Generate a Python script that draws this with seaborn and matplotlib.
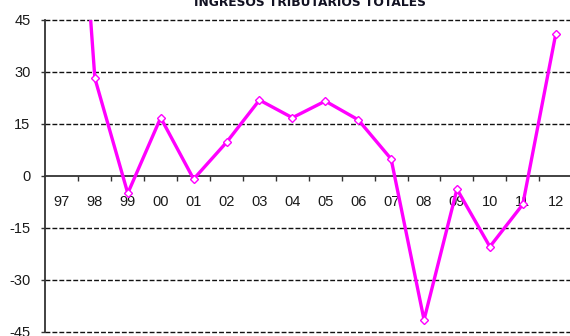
import matplotlib
matplotlib.use("Agg")
import matplotlib.pyplot as plt
from matplotlib.ticker import FixedLocator, NullFormatter
import seaborn as sns
import pandas as pd

# Annual growth of total tax revenue (%)
years = ["97", "98", "99", "00", "01", "02", "03", "04",
         "05", "06", "07", "08", "09", "10", "11", "12"]
growth = [160.0, 28.2, -5.0, 16.8, -0.9, 9.7, 21.9, 16.8,
          21.6, 16.2, 4.9, -41.5, -3.8, -20.4, -8.2, 40.9]
y_ticks = [45, 30, 15, 0, -15, -30, -45]
title = "INGRESOS TRIBUTARIOS TOTALES"

sns.set_theme(style="white")
plt.rcParams["font.family"] = ["Liberation Sans", "DejaVu Sans"]

df = pd.DataFrame({"year": years, "growth": growth})

fig = plt.figure(figsize=(5.70, 3.36), dpi=100)
ax = fig.add_axes([0.0798, 0.012, 0.924, 0.9286])

sns.lineplot(data=df, x="year", y="growth", sort=False, ax=ax,
             color="#ff00ff", linewidth=2.4, marker="D", markersize=4.2,
             markerfacecolor="white", markeredgecolor="#ff00ff",
             markeredgewidth=1.0, zorder=3)

ax.set_xlim(-0.5, len(years) - 0.5)
ax.set_ylim(-45, 45)
ax.set_xlabel("")
ax.set_ylabel("")

# dashed horizontal grid, solid zero line
for v in y_ticks:
    if v != 0:
        ax.axhline(v, color="#111111", linewidth=1.0,
                   linestyle=(0, (3.5, 1.5)), zorder=1, clip_on=False)

for side in ["top", "right"]:
    ax.spines[side].set_visible(False)
ax.spines["left"].set_color("#333333")
ax.spines["left"].set_linewidth(1.3)
ax.spines["bottom"].set_position(("data", 0))
ax.spines["bottom"].set_color("#333333")
ax.spines["bottom"].set_linewidth(1.3)

ax.set_yticks(y_ticks)
ax.set_yticklabels([str(v) for v in y_ticks])
ax.tick_params(axis="y", direction="out", length=2.6, width=1.0,
               color="#333333", pad=8.2, labelsize=10.5, labelcolor="#1a1a1a",
               left=True)

ax.set_xticks(range(len(years)))
ax.set_xticklabels(years)
ax.tick_params(axis="x", which="major", length=0, pad=14,
               labelsize=10.5, labelcolor="#1a1a1a")
ax.xaxis.set_minor_locator(FixedLocator([i + 0.5 for i in range(len(years) - 1)]))
ax.xaxis.set_minor_formatter(NullFormatter())
ax.tick_params(axis="x", which="minor", direction="out", length=3.6,
               width=1.0, color="#333333", bottom=True)

fig.text(310 / 570, 1 - 6 / 336, title, ha="center", va="baseline",
         fontsize=8.8, fontweight="bold", color="#111122",
         family=["DejaVu Sans"])

fig.savefig("out.png", dpi=100)
